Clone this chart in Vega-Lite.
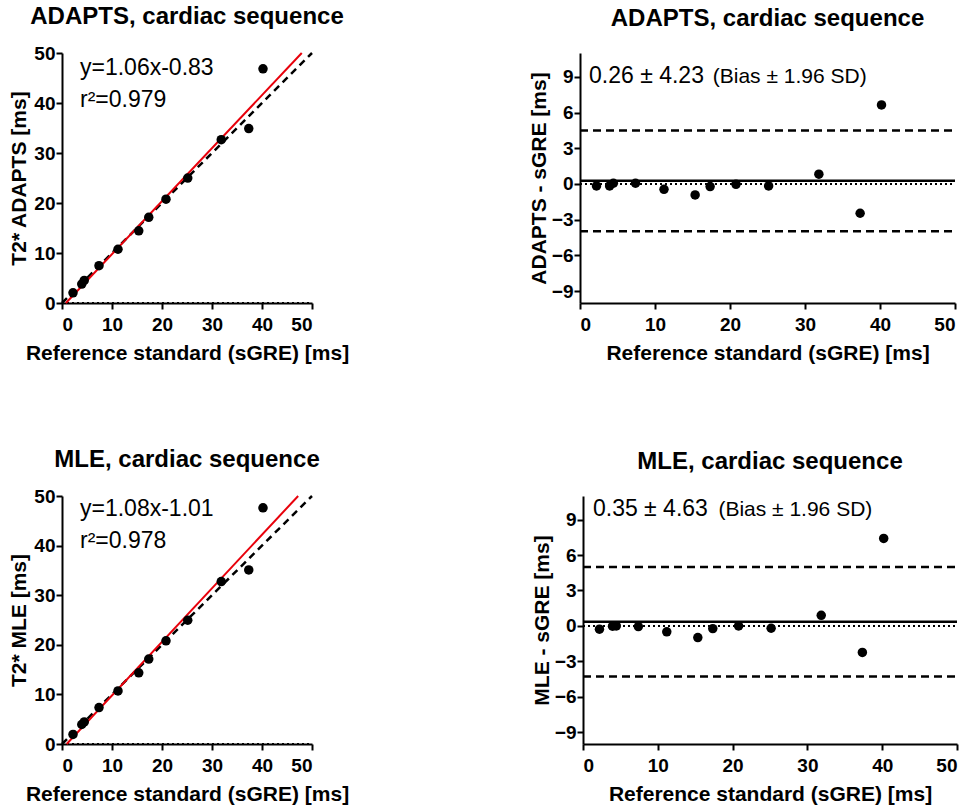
{
  "$schema": "https://vega.github.io/schema/vega-lite/v6.json",
  "background": "white",
  "padding": {"left": 8, "top": 5, "right": 5, "bottom": 5},
  "config": {
    "font": "Liberation Sans",
    "view": {"stroke": null},
    "title": {"font": "Liberation Sans", "fontSize": 24, "fontWeight": "bold", "color": "black", "anchor": "middle", "offset": 15},
    "axis": {"domainColor": "black", "domainWidth": 2, "tickColor": "black", "tickWidth": 2, "tickSize": 6, "labelFont": "Liberation Sans", "labelFontWeight": "bold", "labelFontSize": 19, "labelColor": "black", "labelPadding": 1, "titleFont": "Liberation Sans", "titleFontWeight": "bold", "titleFontSize": 21, "titleColor": "black", "grid": false},
    "axisX": {"labelPadding": 6, "titlePadding": 8}
  },
  "datasets": {
    "pts": [
      {"sGRE": 2.2, "ADAPTS": 2.03, "MLE": 1.92, "diffADAPTS": -0.17, "diffMLE": -0.28},
      {"sGRE": 3.95, "ADAPTS": 3.78, "MLE": 3.93, "diffADAPTS": -0.17, "diffMLE": -0.02},
      {"sGRE": 4.45, "ADAPTS": 4.51, "MLE": 4.45, "diffADAPTS": 0.06, "diffMLE": 0.0},
      {"sGRE": 7.4, "ADAPTS": 7.46, "MLE": 7.34, "diffADAPTS": 0.06, "diffMLE": -0.06},
      {"sGRE": 11.2, "ADAPTS": 10.75, "MLE": 10.7, "diffADAPTS": -0.45, "diffMLE": -0.5},
      {"sGRE": 15.35, "ADAPTS": 14.43, "MLE": 14.36, "diffADAPTS": -0.92, "diffMLE": -0.99},
      {"sGRE": 17.35, "ADAPTS": 17.13, "MLE": 17.12, "diffADAPTS": -0.22, "diffMLE": -0.23},
      {"sGRE": 20.8, "ADAPTS": 20.77, "MLE": 20.8, "diffADAPTS": -0.03, "diffMLE": 0.0},
      {"sGRE": 25.15, "ADAPTS": 24.98, "MLE": 24.95, "diffADAPTS": -0.17, "diffMLE": -0.2},
      {"sGRE": 31.85, "ADAPTS": 32.67, "MLE": 32.75, "diffADAPTS": 0.82, "diffMLE": 0.9},
      {"sGRE": 37.35, "ADAPTS": 34.89, "MLE": 35.1, "diffADAPTS": -2.46, "diffMLE": -2.25},
      {"sGRE": 40.2, "ADAPTS": 46.84, "MLE": 47.61, "diffADAPTS": 6.64, "diffMLE": 7.41}
    ]
  },
  "bounds": "flush",
  "spacing": 443,
  "vconcat": [
    {
      "bounds": "flush",
      "spacing": 268,
      "hconcat": [
        {
          "width": 250, "height": 250,
          "title": {"text": "ADAPTS, cardiac sequence"},
          "layer": [
            {
              "data": {"values": [{"x": 0, "x2": 50, "y": 0}]},
              "mark": {"type": "rule", "color": "black", "strokeWidth": 2, "strokeDash": [2, 3]},
              "encoding": {
                "x": {"field": "x", "type": "quantitative", "scale": {"domain": [0, 50], "nice": false}, "axis": {"values": [0, 10, 20, 30, 40, 50], "title": "Reference standard (sGRE) [ms]"}},
                "x2": {"field": "x2"},
                "y": {"field": "y", "type": "quantitative", "scale": {"domain": [0, 50], "nice": false}, "axis": {"values": [0, 10, 20, 30, 40, 50], "title": "T2* ADAPTS [ms]", "titlePadding": 4}}
              }
            },
            {
              "data": {"values": [{"x": 0, "y": 0, "x2": 50, "y2": 50}]},
              "mark": {"type": "rule", "color": "black", "strokeWidth": 2.5, "strokeDash": [7, 5]},
              "encoding": {
                "x": {"field": "x", "type": "quantitative", "scale": {"domain": [0, 50], "nice": false}, "title": "Reference standard (sGRE) [ms]"},
                "x2": {"field": "x2"},
                "y": {"field": "y", "type": "quantitative", "scale": {"domain": [0, 50], "nice": false}, "title": "T2* ADAPTS [ms]"},
                "y2": {"field": "y2"}
              }
            },
            {
              "data": {"values": [{"x": 0.78, "y": 0, "x2": 47.95, "y2": 50}]},
              "mark": {"type": "rule", "color": "#e8000b", "strokeWidth": 2},
              "encoding": {
                "x": {"field": "x", "type": "quantitative", "scale": {"domain": [0, 50], "nice": false}, "title": "Reference standard (sGRE) [ms]"},
                "x2": {"field": "x2"},
                "y": {"field": "y", "type": "quantitative", "scale": {"domain": [0, 50], "nice": false}, "title": "T2* ADAPTS [ms]"},
                "y2": {"field": "y2"}
              }
            },
            {
              "data": {"name": "pts"},
              "mark": {"type": "circle", "color": "black", "opacity": 1, "size": 90},
              "encoding": {
                "x": {"field": "sGRE", "type": "quantitative", "scale": {"domain": [0, 50], "nice": false}, "title": "Reference standard (sGRE) [ms]"},
                "y": {"field": "ADAPTS", "type": "quantitative", "scale": {"domain": [0, 50], "nice": false}, "title": "T2* ADAPTS [ms]"}
              }
            },
            {
              "data": {"values": [{"x": 3.6, "y": 45.6, "label": "y=1.06x-0.83"}, {"x": 3.6, "y": 39.3, "label": "r²=0.979"}]},
              "mark": {"type": "text", "align": "left", "baseline": "alphabetic", "fontSize": 23, "color": "black", "font": "Liberation Sans"},
              "encoding": {
                "x": {"field": "x", "type": "quantitative", "scale": {"domain": [0, 50], "nice": false}, "title": "Reference standard (sGRE) [ms]"},
                "y": {"field": "y", "type": "quantitative", "scale": {"domain": [0, 50], "nice": false}, "title": "T2* ADAPTS [ms]"},
                "text": {"field": "label"}
              }
            }
          ]
        },
        {
          "width": 375, "height": 250,
          "title": {"text": "ADAPTS, cardiac sequence", "offset": 22},
          "layer": [
            {
              "data": {"values": [{"x": 0, "x2": 50, "y": 0}]},
              "mark": {"type": "rule", "color": "black", "strokeWidth": 2, "strokeDash": [2, 3]},
              "encoding": {
                "x": {"field": "x", "type": "quantitative", "scale": {"domain": [0, 50], "nice": false}, "axis": {"values": [0, 10, 20, 30, 40, 50], "title": "Reference standard (sGRE) [ms]"}},
                "x2": {"field": "x2"},
                "y": {"field": "y", "type": "quantitative", "scale": {"domain": [-10, 11], "nice": false}, "axis": {"values": [-9, -6, -3, 0, 3, 6, 9], "title": "ADAPTS - sGRE [ms]", "titlePadding": 2}}
              }
            },
            {
              "data": {"values": [{"x": 0, "x2": 50, "y": 0.26, "line": "bias"}]},
              "mark": {"type": "rule", "color": "black", "strokeWidth": 2.5},
              "encoding": {
                "x": {"field": "x", "type": "quantitative", "scale": {"domain": [0, 50], "nice": false}, "title": "Reference standard (sGRE) [ms]"},
                "x2": {"field": "x2"},
                "y": {"field": "y", "type": "quantitative", "scale": {"domain": [-10, 11], "nice": false}, "title": "ADAPTS - sGRE [ms]"}
              }
            },
            {
              "data": {"values": [{"x": 0, "x2": 50, "y": 4.49, "line": "upper"}, {"x": 0, "x2": 50, "y": -3.97, "line": "lower"}]},
              "mark": {"type": "rule", "color": "black", "strokeWidth": 2.5, "strokeDash": [8, 5]},
              "encoding": {
                "x": {"field": "x", "type": "quantitative", "scale": {"domain": [0, 50], "nice": false}, "title": "Reference standard (sGRE) [ms]"},
                "x2": {"field": "x2"},
                "y": {"field": "y", "type": "quantitative", "scale": {"domain": [-10, 11], "nice": false}, "title": "ADAPTS - sGRE [ms]"}
              }
            },
            {
              "data": {"name": "pts"},
              "mark": {"type": "circle", "color": "black", "opacity": 1, "size": 90},
              "encoding": {
                "x": {"field": "sGRE", "type": "quantitative", "scale": {"domain": [0, 50], "nice": false}, "title": "Reference standard (sGRE) [ms]"},
                "y": {"field": "diffADAPTS", "type": "quantitative", "scale": {"domain": [-10, 11], "nice": false}, "title": "ADAPTS - sGRE [ms]"}
              }
            },
            {
              "data": {"values": [{"x": 1.2, "y": 8.46, "label": "0.26 ± 4.23"}]},
              "mark": {"type": "text", "align": "left", "baseline": "alphabetic", "fontSize": 23, "color": "black", "font": "Liberation Sans"},
              "encoding": {
                "x": {"field": "x", "type": "quantitative", "scale": {"domain": [0, 50], "nice": false}, "title": "Reference standard (sGRE) [ms]"},
                "y": {"field": "y", "type": "quantitative", "scale": {"domain": [-10, 11], "nice": false}, "title": "ADAPTS - sGRE [ms]"},
                "text": {"field": "label"}
              }
            },
            {
              "data": {"values": [{"x": 17.7, "y": 8.46, "label": "(Bias ± 1.96 SD)"}]},
              "mark": {"type": "text", "align": "left", "baseline": "alphabetic", "fontSize": 21, "color": "black", "font": "Liberation Sans"},
              "encoding": {
                "x": {"field": "x", "type": "quantitative", "scale": {"domain": [0, 50], "nice": false}, "title": "Reference standard (sGRE) [ms]"},
                "y": {"field": "y", "type": "quantitative", "scale": {"domain": [-10, 11], "nice": false}, "title": "ADAPTS - sGRE [ms]"},
                "text": {"field": "label"}
              }
            }
          ]
        }
      ]
    },
    {
      "bounds": "flush",
      "spacing": 271,
      "hconcat": [
        {
          "width": 250, "height": 248,
          "title": {"text": "MLE, cardiac sequence"},
          "layer": [
            {
              "data": {"values": [{"x": 0, "x2": 50, "y": 0}]},
              "mark": {"type": "rule", "color": "black", "strokeWidth": 2, "strokeDash": [2, 3]},
              "encoding": {
                "x": {"field": "x", "type": "quantitative", "scale": {"domain": [0, 50], "nice": false}, "axis": {"values": [0, 10, 20, 30, 40, 50], "title": "Reference standard (sGRE) [ms]"}},
                "x2": {"field": "x2"},
                "y": {"field": "y", "type": "quantitative", "scale": {"domain": [0, 50], "nice": false}, "axis": {"values": [0, 10, 20, 30, 40, 50], "title": "T2* MLE [ms]", "titlePadding": 4}}
              }
            },
            {
              "data": {"values": [{"x": 0, "y": 0, "x2": 50, "y2": 50}]},
              "mark": {"type": "rule", "color": "black", "strokeWidth": 2.5, "strokeDash": [7, 5]},
              "encoding": {
                "x": {"field": "x", "type": "quantitative", "scale": {"domain": [0, 50], "nice": false}, "title": "Reference standard (sGRE) [ms]"},
                "x2": {"field": "x2"},
                "y": {"field": "y", "type": "quantitative", "scale": {"domain": [0, 50], "nice": false}, "title": "T2* MLE [ms]"},
                "y2": {"field": "y2"}
              }
            },
            {
              "data": {"values": [{"x": 0.935, "y": 0, "x2": 47.23, "y2": 50}]},
              "mark": {"type": "rule", "color": "#e8000b", "strokeWidth": 2},
              "encoding": {
                "x": {"field": "x", "type": "quantitative", "scale": {"domain": [0, 50], "nice": false}, "title": "Reference standard (sGRE) [ms]"},
                "x2": {"field": "x2"},
                "y": {"field": "y", "type": "quantitative", "scale": {"domain": [0, 50], "nice": false}, "title": "T2* MLE [ms]"},
                "y2": {"field": "y2"}
              }
            },
            {
              "data": {"name": "pts"},
              "mark": {"type": "circle", "color": "black", "opacity": 1, "size": 90},
              "encoding": {
                "x": {"field": "sGRE", "type": "quantitative", "scale": {"domain": [0, 50], "nice": false}, "title": "Reference standard (sGRE) [ms]"},
                "y": {"field": "MLE", "type": "quantitative", "scale": {"domain": [0, 50], "nice": false}, "title": "T2* MLE [ms]"}
              }
            },
            {
              "data": {"values": [{"x": 3.6, "y": 45.9, "label": "y=1.08x-1.01"}, {"x": 3.6, "y": 39.6, "label": "r²=0.978"}]},
              "mark": {"type": "text", "align": "left", "baseline": "alphabetic", "fontSize": 23, "color": "black", "font": "Liberation Sans"},
              "encoding": {
                "x": {"field": "x", "type": "quantitative", "scale": {"domain": [0, 50], "nice": false}, "title": "Reference standard (sGRE) [ms]"},
                "y": {"field": "y", "type": "quantitative", "scale": {"domain": [0, 50], "nice": false}, "title": "T2* MLE [ms]"},
                "text": {"field": "label"}
              }
            }
          ]
        },
        {
          "width": 374, "height": 248,
          "title": {"text": "MLE, cardiac sequence", "offset": 22},
          "layer": [
            {
              "data": {"values": [{"x": 0, "x2": 50, "y": 0}]},
              "mark": {"type": "rule", "color": "black", "strokeWidth": 2, "strokeDash": [2, 3]},
              "encoding": {
                "x": {"field": "x", "type": "quantitative", "scale": {"domain": [0, 50], "nice": false}, "axis": {"values": [0, 10, 20, 30, 40, 50], "title": "Reference standard (sGRE) [ms]"}},
                "x2": {"field": "x2"},
                "y": {"field": "y", "type": "quantitative", "scale": {"domain": [-10, 11], "nice": false}, "axis": {"values": [-9, -6, -3, 0, 3, 6, 9], "title": "MLE - sGRE [ms]", "titlePadding": 2}}
              }
            },
            {
              "data": {"values": [{"x": 0, "x2": 50, "y": 0.35, "line": "bias"}]},
              "mark": {"type": "rule", "color": "black", "strokeWidth": 2.5},
              "encoding": {
                "x": {"field": "x", "type": "quantitative", "scale": {"domain": [0, 50], "nice": false}, "title": "Reference standard (sGRE) [ms]"},
                "x2": {"field": "x2"},
                "y": {"field": "y", "type": "quantitative", "scale": {"domain": [-10, 11], "nice": false}, "title": "MLE - sGRE [ms]"}
              }
            },
            {
              "data": {"values": [{"x": 0, "x2": 50, "y": 4.98, "line": "upper"}, {"x": 0, "x2": 50, "y": -4.28, "line": "lower"}]},
              "mark": {"type": "rule", "color": "black", "strokeWidth": 2.5, "strokeDash": [8, 5]},
              "encoding": {
                "x": {"field": "x", "type": "quantitative", "scale": {"domain": [0, 50], "nice": false}, "title": "Reference standard (sGRE) [ms]"},
                "x2": {"field": "x2"},
                "y": {"field": "y", "type": "quantitative", "scale": {"domain": [-10, 11], "nice": false}, "title": "MLE - sGRE [ms]"}
              }
            },
            {
              "data": {"name": "pts"},
              "mark": {"type": "circle", "color": "black", "opacity": 1, "size": 90},
              "encoding": {
                "x": {"field": "sGRE", "type": "quantitative", "scale": {"domain": [0, 50], "nice": false}, "title": "Reference standard (sGRE) [ms]"},
                "y": {"field": "diffMLE", "type": "quantitative", "scale": {"domain": [-10, 11], "nice": false}, "title": "MLE - sGRE [ms]"}
              }
            },
            {
              "data": {"values": [{"x": 1.33, "y": 9.3, "label": "0.35 ± 4.63"}]},
              "mark": {"type": "text", "align": "left", "baseline": "alphabetic", "fontSize": 23, "color": "black", "font": "Liberation Sans"},
              "encoding": {
                "x": {"field": "x", "type": "quantitative", "scale": {"domain": [0, 50], "nice": false}, "title": "Reference standard (sGRE) [ms]"},
                "y": {"field": "y", "type": "quantitative", "scale": {"domain": [-10, 11], "nice": false}, "title": "MLE - sGRE [ms]"},
                "text": {"field": "label"}
              }
            },
            {
              "data": {"values": [{"x": 18.1, "y": 9.3, "label": "(Bias ± 1.96 SD)"}]},
              "mark": {"type": "text", "align": "left", "baseline": "alphabetic", "fontSize": 21, "color": "black", "font": "Liberation Sans"},
              "encoding": {
                "x": {"field": "x", "type": "quantitative", "scale": {"domain": [0, 50], "nice": false}, "title": "Reference standard (sGRE) [ms]"},
                "y": {"field": "y", "type": "quantitative", "scale": {"domain": [-10, 11], "nice": false}, "title": "MLE - sGRE [ms]"},
                "text": {"field": "label"}
              }
            }
          ]
        }
      ]
    }
  ]
}
